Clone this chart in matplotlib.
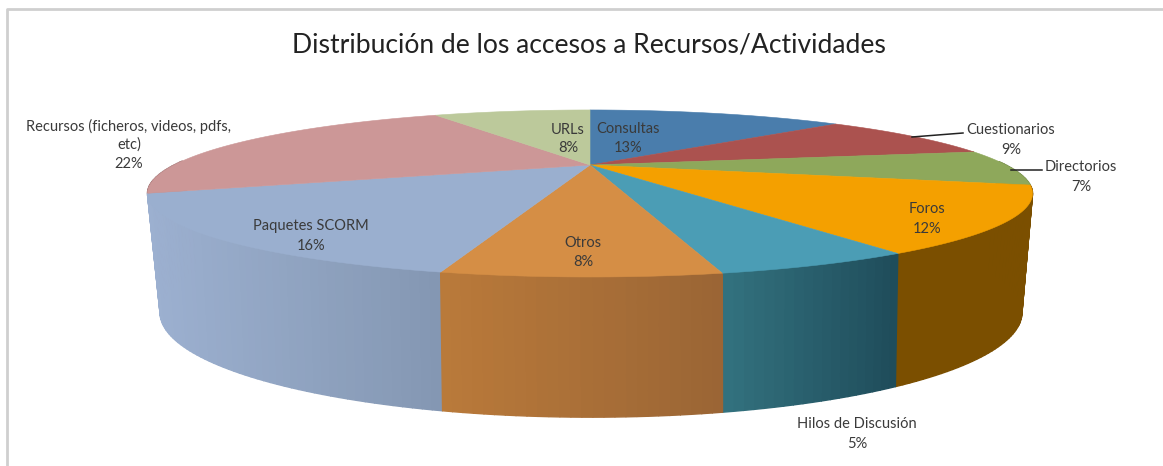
import numpy as np
import matplotlib
matplotlib.use("Agg")
import matplotlib.pyplot as plt
from matplotlib.colors import to_rgb
from matplotlib.patches import Polygon

title = "Distribución de los accesos a Recursos/Actividades"
categories = ["Consultas", "Cuestionarios", "Directorios", "Foros", "Hilos de Discusión",
              "Otros", "Paquetes SCORM", "Recursos (ficheros, videos, pdfs,\netc)", "URLs"]
# slice sizes as drawn in the picture (the printed labels are rounded differently)
values = [13.0, 9.0, 7.0, 12.2, 5.4, 7.26, 15.64, 22.5, 8.0]
percent_labels = ["13%", "9%", "7%", "12%", "5%", "8%", "16%", "22%", "8%"]

top_colors = ["#4A7DAC", "#AB524F", "#8EA85B", "#F4A000", "#4B9DB5",
              "#D58E45", "#9AAFCF", "#CC9797", "#BCC99B"]
side_left = ["#3A6288", "#86403E", "#708447", "#7B4F00", "#33727F",
             "#BA7A3A", "#9CB0D0", "#A17777", "#949E7A"]
side_right = ["#3A6288", "#86403E", "#708447", "#7B4F00", "#1F4C5A",
              "#9A6535", "#8497B2", "#A17777", "#949E7A"]


def top_plane(theta):
    w = 1 + 0.341 * np.cos(theta)
    return 590 + 416 * np.sin(theta) / w, 165 - 73.8 * np.cos(theta) / w


def bottom_plane(theta):
    w = 1 + 0.36 * np.cos(theta)
    return 591 + 402 * np.sin(theta) / w, 275 - 91 * np.cos(theta) / w


plt.rcParams["font.family"] = ["Lato", "DejaVu Sans"]
fig = plt.figure(figsize=(11.63, 4.66), dpi=100)
ax = fig.add_axes([0, 0, 1, 1])
ax.set_xlim(0, 1163)
ax.set_ylim(466, 0)
ax.axis("off")

# frame
ax.plot([7, 7, 1163], [466, 8.5, 8.5], color="#CFCFCF", lw=2, solid_capstyle="butt")

edges = np.radians(np.concatenate([[0], np.cumsum(values)]) * 3.6)

# side wall: strips from the rim, back to front
strips = []
for i in range(len(values)):
    a, b = edges[i], edges[i + 1]
    n = max(2, int(np.degrees(b - a)))
    t = np.linspace(a, b, n + 1)
    xa = (top_plane(a)[0] + bottom_plane(a)[0]) / 2
    xb_end = (top_plane(b)[0] + bottom_plane(b)[0]) / 2
    lo, hi = min(xa, xb_end), max(xa, xb_end)
    for j in range(n):
        mid = (t[j] + t[j + 1]) / 2
        if np.cos(mid) > 0.05:
            continue
        xt, yt = top_plane(t[[j, j + 1]])
        xb, yb = bottom_plane(t[[j, j + 1]])
        f = np.clip(((xt.mean() + xb.mean()) / 2 - lo) / (hi - lo), 0, 1)
        col = (1 - f) * np.array(to_rgb(side_left[i])) + f * np.array(to_rgb(side_right[i]))
        pts = [(xt[0], yt[0]), (xt[1], yt[1]), (xb[1], yb[1]), (xb[0], yb[0])]
        strips.append((np.cos(mid), pts, col))
for depth, pts, col in sorted(strips, key=lambda s: -s[0]):
    ax.add_patch(Polygon(pts, closed=True, fc=col, ec=col, lw=1.0, zorder=2))

# top face
for i in range(len(values)):
    t = np.linspace(edges[i], edges[i + 1], 80)
    x, y = top_plane(t)
    ax.add_patch(Polygon(np.column_stack([np.r_[590, x], np.r_[165, y]]), closed=True,
                         fc=top_colors[i], ec=top_colors[i], lw=0.4, zorder=3))

# leader lines
ax.plot([912, 963], [137, 133], color="#222222", lw=1.1, zorder=4)
ax.plot([1011, 1042], [170, 170], color="#222222", lw=1.1, zorder=4)


def label(i, x, y_first, gap=19.5):
    text = categories[i] + "\n" + percent_labels[i]
    for k, line in enumerate(text.split("\n")):
        ax.text(x, y_first + 1 + k * gap, line, ha="center", va="center", fontsize=10.5,
                color="#3A3A3A", zorder=5)


ax.text(589, 45.5, title, ha="center", va="center", fontsize=19.1, color="#222222")
label(0, 628, 128)
label(1, 1011, 129, gap=20)
label(2, 1081, 166, gap=20)
label(3, 927, 208, gap=20)
label(4, 857, 423, gap=20)
label(5, 583, 242)
label(6, 311, 225)
label(7, 129, 125, gap=19)
label(8, 568, 129, gap=18.5)

fig.savefig("out.png", dpi=100)
